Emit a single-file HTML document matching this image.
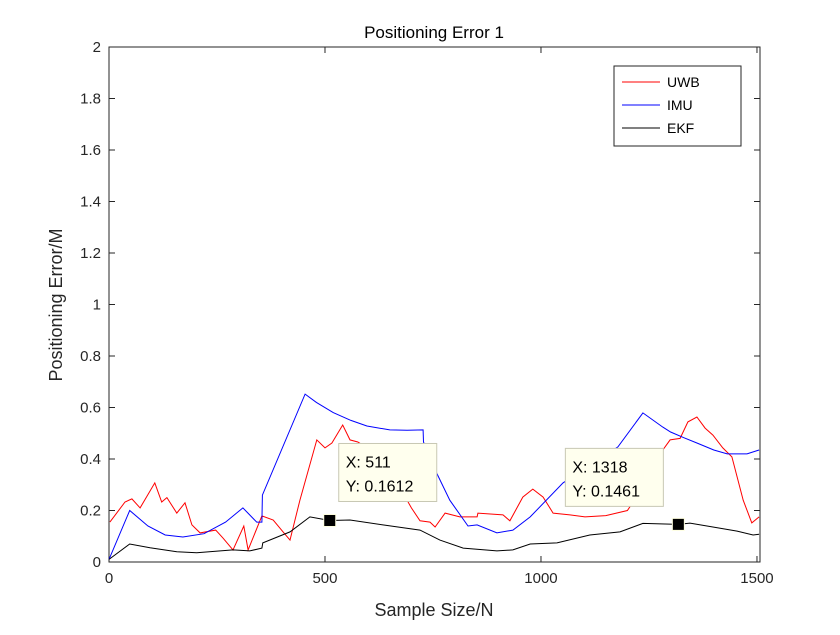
<!DOCTYPE html>
<html><head><meta charset="utf-8"><style>
body{margin:0;background:#fff;}
svg text{font-family:"Liberation Sans",Arial,sans-serif;}
</style></head><body>
<svg id="chart" width="840" height="630" xmlns="http://www.w3.org/2000/svg">
<rect width="840" height="630" fill="#fff"/>
<rect x="109" y="47" width="651" height="515" fill="#fff"/>
<text x="434" y="38" font-size="17" text-anchor="middle" fill="#000">Positioning Error 1</text>
<text x="434" y="616" font-size="18" text-anchor="middle" fill="#262626">Sample Size/N</text>
<text transform="translate(62,305) rotate(-90)" font-size="18" text-anchor="middle" fill="#262626">Positioning Error/M</text>
<g id="axes"></g>
<g id="series"></g>
<g id="tips"></g>
<g>
<rect x="614" y="66" width="127" height="80" fill="#fff" stroke="#262626" stroke-width="1"/>
<line x1="622" y1="82" x2="660" y2="82" stroke="#ff0000"/>
<text x="667" y="87" font-size="14">UWB</text>
<line x1="622" y1="105" x2="660" y2="105" stroke="#0000ff"/>
<text x="667" y="110" font-size="14">IMU</text>
<line x1="622" y1="128" x2="660" y2="128" stroke="#000"/>
<text x="667" y="133" font-size="14">EKF</text>
</g>
</svg>
<script>
const xTicks=[0,500,1000,1500];
const yTicks=[0,0.2,0.4,0.6,0.8,1,1.2,1.4,1.6,1.8,2];
const uwbX=[2,37,53,72,106,122,134,157,176,192,211,247,264,287,312,322,354,380,403,419,442,481,500,516,541,558,576,610,640,680,700,720,743,755,778,812,852,854,912,928,958,981,1005,1028,1067,1102,1150,1200,1240,1265,1282,1299,1322,1340,1361,1380,1398,1421,1442,1468,1488,1505];
const uwbY=[0.155,0.233,0.245,0.21,0.307,0.233,0.25,0.19,0.23,0.144,0.113,0.124,0.093,0.047,0.14,0.047,0.179,0.163,0.117,0.085,0.24,0.474,0.443,0.462,0.532,0.474,0.466,0.43,0.35,0.27,0.21,0.16,0.155,0.136,0.19,0.175,0.175,0.19,0.183,0.16,0.252,0.283,0.252,0.19,0.183,0.175,0.18,0.2,0.3,0.42,0.435,0.474,0.48,0.544,0.563,0.52,0.493,0.443,0.408,0.24,0.152,0.175];
const imuX=[0,48,90,130,171,220,270,310,342,354,355,454,480,519,560,597,650,690,727,728,760,789,831,852,898,935,975,1051,1178,1236,1282,1300,1330,1361,1400,1431,1477,1505];
const imuY=[0.01,0.2,0.14,0.105,0.097,0.11,0.155,0.21,0.155,0.155,0.26,0.652,0.62,0.58,0.55,0.528,0.513,0.512,0.513,0.466,0.34,0.24,0.14,0.144,0.113,0.124,0.175,0.307,0.447,0.579,0.524,0.505,0.483,0.462,0.435,0.42,0.42,0.435];
const ekfX=[0,48,95,157,203,287,326,354,356,419,465,511,558,634,720,766,820,898,935,975,1037,1113,1183,1236,1318,1345,1398,1454,1491,1505];
const ekfY=[0.01,0.07,0.055,0.04,0.036,0.047,0.043,0.054,0.074,0.117,0.175,0.161,0.163,0.144,0.124,0.085,0.054,0.043,0.047,0.07,0.074,0.105,0.117,0.15,0.146,0.151,0.136,0.12,0.105,0.108];
const tipX=[511,1318];
const tipY=[0.1612,0.1461];

const NS="http://www.w3.org/2000/svg";
const L=109,R=760,T=47,B=562,XMAX=1507,YMAX=2;
const sx=v=>L+v/XMAX*(R-L);
const sy=v=>B-v/YMAX*(B-T);
function mk(tag,attrs,parent){const e=document.createElementNS(NS,tag);for(const k in attrs)e.setAttribute(k,attrs[k]);parent.appendChild(e);return e;}
const axes=document.getElementById('axes');
const ax=mk('path',{d:`M${L},${T}H${R}V${B}H${L}Z`,fill:'none',stroke:'#262626','stroke-width':1},axes);


xTicks.forEach(v=>{const x=sx(v);
 const t=mk('path',{d:`M${x},${B}v-6M${x},${T}v6`,stroke:'#262626'},axes);
 
 
 const tx=mk('text',{x:x,y:B+21,'font-size':15,'text-anchor':'middle',fill:'#262626'},axes);tx.textContent=v;
 
 
});
yTicks.forEach(v=>{const y=sy(v);
 const t=mk('path',{d:`M${L},${y}h6M${R},${y}h-6`,stroke:'#262626'},axes);
 
 
 const tx=mk('text',{x:L-8,y:y+5,'font-size':15,'text-anchor':'end',fill:'#262626'},axes);tx.textContent=v;
 
 
});
const ser=document.getElementById('series');
function line(xs,ys,color,name){
 const d=xs.map((x,i)=>(i?'L':'M')+sx(x).toFixed(1)+','+sy(ys[i]).toFixed(1)).join('');
 const p=mk('path',{d:d,fill:'none',stroke:color,'stroke-width':1},ser);
 
 
}
line(uwbX,uwbY,'#ff0000','uwb-line');
line(imuX,imuY,'#0000ff','imu-line');
line(ekfX,ekfY,'#000000','ekf-line');
const tips=document.getElementById('tips');
const boxOff=[[9,-77],[-113,-76]];
tipX.forEach((v,i)=>{
 const x=sx(v),y=sy(tipY[i]);
 const m=mk('rect',{x:x-6,y:y-6,width:12,height:12,fill:'#000',stroke:'#ffffe0'},tips);
 
 
 const bx=x+boxOff[i][0],by=y+boxOff[i][1];
 const b=mk('rect',{x:bx,y:by,width:98,height:58,fill:'#ffffee',stroke:'#c8c8b4'},tips);
 
 
 const t1=mk('text',{x:bx+7,y:by+24,'font-size':16,fill:'#000'},tips);t1.textContent='X: '+v;
 
 
 const t2=mk('text',{x:bx+7,y:by+48,'font-size':16,fill:'#000'},tips);t2.textContent='Y: '+tipY[i];
 
 
});
</script>
</body></html>
